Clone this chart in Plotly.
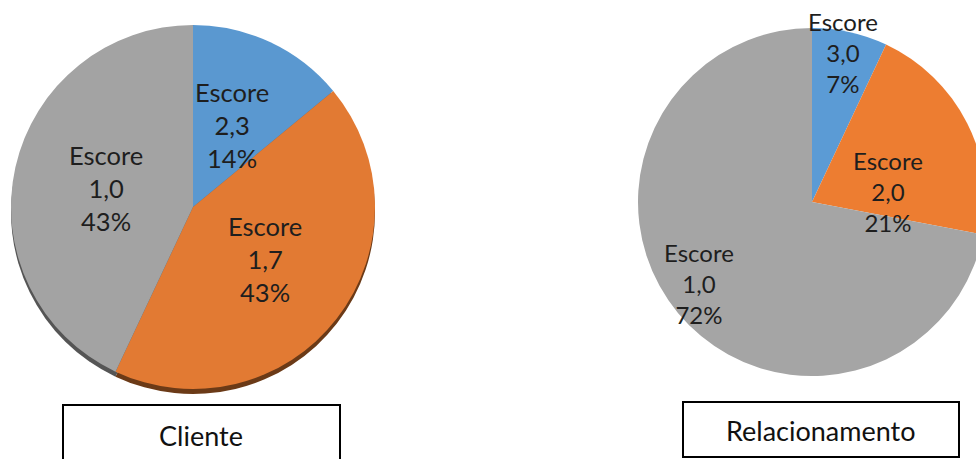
import math
import plotly.graph_objects as go

# ---- data ----
cliente_scores = ["2,3", "1,7", "1,0"]
cliente_pct = [14, 43, 43]
rel_scores = ["3,0", "2,0", "1,0"]
rel_pct = [7, 21, 72]
chart_titles = ["Cliente", "Relacionamento"]

# ---- layout helpers ----
W, H = 990, 459
FONT = "Lato"

def dom(cx, cy, r):
    return dict(x=[(cx - r) / W, (cx + r) / W],
                y=[(H - (cy + r)) / H, (H - (cy - r)) / H])

def px(x, y):
    return x / W, (H - y) / H

fig = go.Figure()

# left pie (with a dark rim underneath for the 3D look)
L_CX, L_CY, L_R = 193, 207, 182
fig.add_trace(go.Pie(
    values=cliente_pct, sort=False, direction="clockwise", rotation=0,
    marker=dict(colors=["#3d6a94", "#6b3a17", "#555555"], line=dict(width=0)),
    textinfo="none", hoverinfo="skip", showlegend=False,
    domain=dom(L_CX, L_CY + 5, L_R)))
fig.add_trace(go.Pie(
    values=cliente_pct, labels=["Escore " + s for s in cliente_scores],
    sort=False, direction="clockwise", rotation=0,
    marker=dict(colors=["#5a98d0", "#e27a33", "#a3a3a3"], line=dict(width=0)),
    textinfo="none", hoverinfo="label+percent", showlegend=False,
    domain=dom(L_CX, L_CY, L_R)))

# right pie
R_CX, R_CY, R_R = 812, 202, 174
fig.add_trace(go.Pie(
    values=rel_pct, labels=["Escore " + s for s in rel_scores],
    sort=False, direction="clockwise", rotation=0,
    marker=dict(colors=["#5b9bd5", "#ed7d31", "#a5a5a5"], line=dict(width=0)),
    textinfo="none", hoverinfo="label+percent", showlegend=False,
    domain=dom(R_CX, R_CY, R_R)))

annotations = []

def add_labels(cx, cy, r, scores, pcts, radial, angle_shift, size):
    total = sum(pcts)
    cum = 0
    for s, p, f, da in zip(scores, pcts, radial, angle_shift):
        mid = (cum + p / 2) / total * 2 * math.pi + math.radians(da)
        cum += p
        x = cx + f * r * math.sin(mid)
        y = cy - f * r * math.cos(mid)
        ax, ay = px(x, y)
        annotations.append(dict(
            x=ax, y=ay, xref="paper", yref="paper", showarrow=False,
            xanchor="center", yanchor="middle",
            text=f"Escore<br>{s}<br>{p}%", align="center",
            font=dict(family=FONT, size=size, color="#1e1e1e")))

add_labels(L_CX, L_CY, L_R, cliente_scores, cliente_pct,
           [0.50, 0.49, 0.49], [0, -2, 0], 25.5)
add_labels(R_CX, R_CY, R_R, rel_scores, rel_pct,
           [0.88, 0.44, 0.80], [-1, 19, 4], 24)

# title boxes
shapes = []
for (x0, y0, x1, y1), (tx, ty), t in zip(
        [(63, 405, 340, 475), (683, 402, 959, 457)],
        [(201, 435), (821, 430)], chart_titles):
    X0, Y0 = px(x0, y0)
    X1, Y1 = px(x1, y1)
    shapes.append(dict(type="rect", xref="paper", yref="paper",
                       x0=X0, x1=X1, y0=Y1, y1=Y0,
                       line=dict(color="black", width=2),
                       fillcolor="rgba(0,0,0,0)"))
    ax, ay = px(tx, ty)
    annotations.append(dict(x=ax, y=ay, xref="paper", yref="paper",
                            showarrow=False, text=t,
                            xanchor="center", yanchor="middle",
                            font=dict(family=FONT, size=27, color="#111")))

fig.update_layout(
    width=W, height=H, margin=dict(l=0, r=0, t=0, b=0),
    paper_bgcolor="white", plot_bgcolor="white",
    annotations=annotations, shapes=shapes,
    font=dict(family=FONT))

fig.write_html("out.html")
